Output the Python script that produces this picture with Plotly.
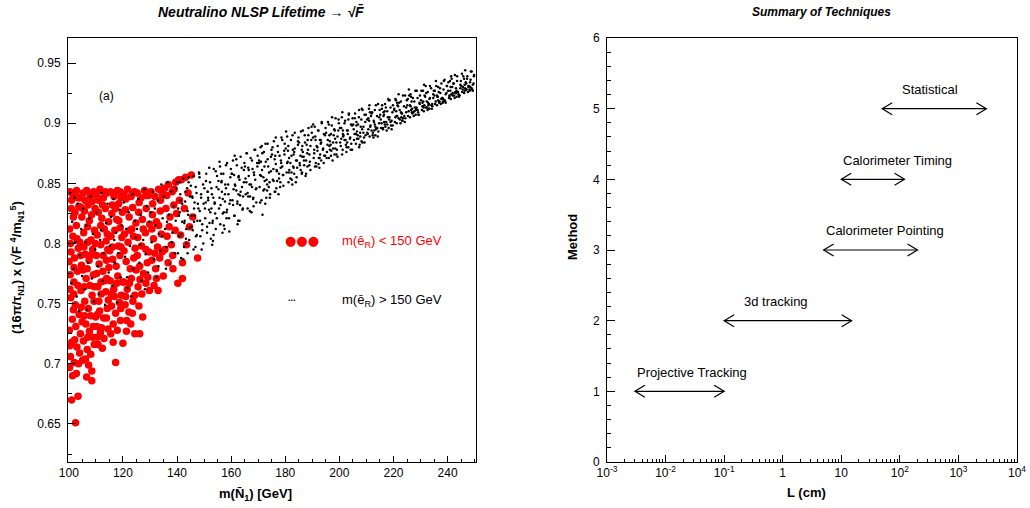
import math
import plotly.graph_objects as go

# ---------------- data: left panel ----------------
red_pts = [
 (100.4,.843),(101.6,.840),(102.9,.844),(104.2,.838),(100.9,.829),(102.3,.826),(103.7,.831),(104.8,.822),
 (100.3,.812),(101.5,.806),(102.8,.815),(104.1,.801),(100.8,.793),(102.1,.788),(103.5,.796),(104.7,.782),
 (100.5,.774),(101.9,.768),(103.2,.777),(104.5,.761),(100.7,.755),(102.4,.749),(103.8,.741),(101.3,.737),
 (100.2,.728),(102.6,.731),(104.3,.725),(101.1,.718),(103.0,.714),(100.6,.706),(102.0,.701),(104.0,.709),
 (100.3,.697),(101.4,.690),(101.0,.670),(102.5,.651),(103.4,.673),(101.8,.758),(104.6,.747),(100.1,.785),
 (101.0,.836),(103.3,.838),(101.7,.822),(104.5,.830),(100.6,.800),(103.0,.804),(101.9,.780),(104.4,.790),
 (100.4,.762),(103.4,.765),(101.7,.745),(104.9,.735),(102.2,.720),(100.4,.715),(103.6,.700),(102.8,.692),
 (105.3,.842),(106.6,.844),(107.9,.839),(109.2,.843),(105.8,.827),(107.1,.832),(108.4,.824),(109.7,.829),
 (105.5,.809),(106.9,.814),(108.2,.803),(109.5,.811),(106.1,.791),(107.5,.786),(108.8,.795),(105.2,.778),
 (106.4,.771),(107.8,.765),(109.1,.774),(105.9,.752),(107.2,.746),(108.6,.757),(109.9,.739),(106.3,.733),
 (107.6,.727),(108.9,.722),(105.4,.719),(106.8,.712),(108.1,.708),(109.4,.716),(105.1,.703),(107.3,.699),
 (108.5,.686),(106.6,.689),(108.5,.694),(109.3,.752),(105.7,.764),(107.0,.801),
 (106.0,.836),(108.6,.835),(107.6,.819),(105.6,.797),(108.0,.790),(109.8,.800),(106.8,.779),(109.5,.764),
 (105.8,.740),(108.1,.740),(107.0,.722),(109.0,.731),(106.2,.704),
 (110.3,.840),(111.5,.845),(112.8,.838),(114.1,.842),(110.9,.826),(112.2,.821),(113.5,.829),(114.7,.818),
 (110.5,.807),(111.8,.799),(113.1,.812),(114.4,.795),(111.2,.783),(112.6,.777),(113.9,.786),(110.7,.764),
 (112.0,.758),(113.3,.769),(114.6,.753),(111.4,.744),(112.9,.738),(114.2,.746),(110.4,.731),(111.7,.726),
 (113.0,.721),(114.5,.729),(110.8,.716),(112.4,.713),(113.7,.760),(110.2,.790),(111.1,.752),(114.0,.771),
 (112.5,.832),(113.8,.802),(110.6,.741),
 (111.0,.836),(113.5,.843),(111.8,.815),(114.2,.808),(110.3,.775),(112.7,.790),(114.8,.780),(111.9,.768),
 (113.9,.738),(112.1,.730),(110.5,.722),
 (115.4,.843),(116.7,.839),(118.0,.844),(119.3,.838),(115.9,.825),(117.2,.829),(118.5,.819),(119.8,.826),
 (115.6,.806),(117.0,.811),(118.3,.798),(119.6,.805),(116.2,.787),(117.5,.781),(118.9,.790),(115.3,.769),
 (116.6,.762),(118.1,.773),(119.4,.757),(115.8,.748),(117.3,.742),(118.7,.751),(116.4,.733),(117.9,.728),
 (119.1,.736),(115.5,.725),(117.3,.701),(119.9,.768),(116.9,.756),(118.4,.833),(115.1,.794),(119.0,.813),
 (116.0,.832),(118.9,.843),(117.7,.820),(116.1,.797),(119.3,.797),(117.7,.767),(115.8,.758),(119.2,.746),
 (116.4,.718),
 (120.4,.841),(121.7,.845),(123.0,.839),(124.3,.843),(120.9,.828),(122.3,.822),(123.6,.830),(124.8,.817),
 (120.6,.808),(121.9,.801),(123.3,.812),(124.5,.796),(121.2,.785),(122.7,.779),(124.0,.788),(120.3,.768),
 (121.6,.762),(123.1,.771),(124.4,.757),(120.8,.749),(122.2,.743),(123.7,.752),(121.4,.736),(122.9,.733),
 (120.0,.717),(124.4,.725),(121.0,.756),(123.9,.806),
 (121.1,.837),(123.7,.842),(122.6,.811),(120.4,.794),(124.9,.778),(122.4,.767),(123.5,.742),(121.3,.727),
 (125.3,.842),(126.7,.838),(128.0,.844),(129.4,.840),(125.8,.826),(127.2,.820),(128.6,.829),(129.9,.816),
 (125.5,.805),(126.9,.798),(128.3,.809),(129.6,.793),(126.2,.781),(127.6,.775),(129.0,.784),(125.6,.764),
 (127.0,.758),(128.5,.767),(126.2,.725),(127.3,.739),(125.9,.748),(129.2,.772),
 (126.0,.834),(128.8,.840),(127.5,.812),(125.3,.790),(128.5,.795),(126.3,.770),(129.8,.761),
 (130.4,.843),(131.8,.839),(133.2,.845),(134.6,.841),(130.9,.824),(132.4,.818),(133.8,.827),(131.3,.804),
 (132.8,.797),(134.2,.808),(130.7,.786),(132.1,.779),(133.6,.788),(131.5,.765),(133.0,.761),(134.9,.773),
 (131.0,.833),(133.9,.836),(130.7,.812),(133.2,.815),(131.8,.792),(134.5,.793),(132.4,.771),
 (135.4,.846),(136.8,.849),(138.2,.843),(139.5,.851),(135.9,.829),(137.4,.822),(138.8,.832),(136.3,.806),
 (137.9,.799),(139.3,.811),(136.7,.784),(138.5,.779),
 (136.2,.840),(138.9,.845),(137.1,.814),(139.8,.825),(135.5,.795),(138.4,.790),
 (140.3,.767),(142.0,.771),(142.0,.784),(140.6,.853),(141.6,.853),(143.2,.855),(145.3,.857),(140.9,.836),
 (142.7,.829),(144.1,.842),(141.3,.807),(143.5,.799),(147.6,.788),(145.8,.822),(144.6,.814),
]

black_pts = [
 (100.5,.842),(101.2,.818),(101.8,.779),(102.4,.801),(102.9,.756),(103.3,.833),(103.8,.744),(104.1,.790),(104.6,.812),(100.9,.767),(102.1,.838),(104.9,.773),
 (105.3,.829),(105.8,.762),(106.2,.801),(106.7,.745),(107.1,.784),(107.6,.821),(108.0,.839),(108.5,.771),(108.9,.808),(109.3,.752),(109.7,.795),(106.4,.815),
 (110.2,.826),(110.7,.781),(111.1,.758),(111.6,.803),(112.0,.842),(112.5,.769),(112.9,.792),(113.4,.749),(113.8,.817),(114.3,.833),(114.7,.776),(111.9,.811),
 (115.2,.798),(115.6,.822),(116.1,.765),(116.5,.837),(117.0,.784),(117.4,.809),(117.9,.751),(118.3,.792),(118.8,.828),(119.2,.772),(119.6,.815),(116.8,.803),
 (120.3,.834),(120.8,.789),(121.2,.812),(121.7,.763),(122.1,.826),(122.6,.798),(123.0,.756),(123.5,.841),(123.9,.779),(124.4,.819),(124.8,.805),(121.5,.772),
 (125.2,.812),(125.7,.837),(126.1,.784),(126.6,.824),(127.0,.769),(127.5,.803),(127.9,.845),(128.4,.791),(128.8,.831),(129.3,.776),(129.7,.818),(126.3,.799),(128.1,.762),
 (130.2,.826),(130.6,.801),(131.1,.843),(131.5,.787),(132.0,.815),(132.4,.772),(132.9,.836),(133.3,.808),(133.8,.794),(134.2,.849),(134.7,.821),(131.8,.829),(133.1,.781),(134.5,.806),
 (135.2,.839),(135.6,.812),(136.1,.797),(136.5,.851),(137.0,.824),(137.4,.783),(137.9,.843),(138.3,.809),(138.8,.831),(139.2,.792),(139.7,.846),(136.3,.818),(138.1,.801),(139.5,.819),(135.9,.779),
 (140.1,.851),(140.4,.829),(140.8,.806),(141.2,.841),(141.5,.788),(141.9,.818),(142.3,.854),(142.6,.797),(143.0,.835),(143.4,.812),(143.7,.846),(144.1,.824),(144.5,.803),(144.8,.839),(141.0,.826),(142.8,.819),(143.9,.792),(144.3,.851),
 (145.1,.848),(145.4,.823),(145.8,.811),(146.1,.856),(146.5,.834),(146.8,.797),(147.2,.842),(147.5,.819),(147.9,.829),(148.2,.858),(148.6,.806),(148.9,.838),(149.3,.816),(149.6,.849),(145.6,.839),(146.3,.818),(147.0,.806),(148.4,.827),(149.1,.795),(149.8,.833),
 (150.1,.846),(150.4,.821),(150.8,.858),(151.1,.809),(151.5,.836),(151.8,.828),(152.2,.851),(152.5,.804),(152.9,.841),(153.2,.819),(153.6,.862),(153.9,.833),(154.3,.812),(154.6,.847),(150.6,.834),(151.3,.843),(152.0,.817),(152.7,.829),(153.4,.838),(154.1,.825),(154.8,.856),(153.0,.799),
 (155.3,.852),(155.5,.829),(155.9,.864),(156.0,.816),(156.6,.843),(156.9,.837),(157.1,.858),(157.6,.812),(157.8,.849),(158.3,.826),(158.5,.867),(159.0,.841),(159.2,.821),(159.7,.855),(155.7,.838),(156.4,.851),(157.3,.826),(157.7,.835),(158.1,.846),(159.4,.833),(159.9,.862),(156.8,.809),
 (160.2,.858),(160.5,.836),(160.7,.869),(161.3,.823),(161.4,.849),(161.9,.844),(162.1,.865),(162.6,.819),(162.8,.856),(163.3,.832),(163.5,.872),(164.0,.847),(164.2,.828),(164.7,.861),(160.9,.845),(161.1,.857),(162.3,.833),(162.7,.841),(163.1,.853),(164.4,.839),(164.9,.867),(162.4,.816),
 (165.1,.864),(165.4,.841),(165.8,.875),(166.1,.829),(166.5,.856),(166.8,.849),(167.2,.871),(167.5,.826),(167.9,.862),(168.2,.838),(168.6,.878),(168.9,.853),(169.3,.834),(169.6,.867),(165.6,.851),(166.3,.863),(167.0,.839),(167.7,.847),(168.4,.859),(169.1,.845),(169.8,.873),(171.6,.824),
 (170.3,.869),(170.5,.847),(170.9,.880),(171.2,.836),(171.4,.861),(171.9,.855),(172.1,.876),(172.6,.833),(172.8,.868),(173.3,.844),(173.5,.883),(174.0,.859),(174.4,.841),(174.7,.872),(170.7,.857),(171.0,.868),(172.3,.845),(172.4,.852),(173.7,.864),(174.2,.851),(174.9,.878),(173.0,.838),
 (175.1,.874),(175.4,.853),(175.8,.885),(176.1,.843),(176.5,.866),(176.8,.861),(177.2,.881),(177.5,.841),(177.9,.873),(178.2,.851),(178.6,.888),(178.9,.864),(179.3,.848),(179.6,.877),(175.6,.862),(176.3,.873),(177.0,.852),(177.7,.858),(178.4,.869),(179.1,.857),(179.8,.883),(176.7,.846),
 (180.2,.879),(180.5,.859),(180.7,.889),(181.2,.851),(181.4,.871),(181.9,.867),(182.1,.886),(182.6,.849),(182.8,.878),(183.3,.858),(183.5,.892),(184.0,.869),(184.2,.855),(184.7,.882),(180.9,.868),(181.0,.877),(182.3,.859),(182.9,.864),(183.1,.874),(184.4,.863),(184.9,.888),(182.4,.853),
 (185.1,.884),(185.4,.865),(185.8,.893),(186.1,.858),(186.5,.876),(186.8,.872),(187.2,.890),(187.5,.856),(187.9,.882),(188.2,.864),(188.6,.896),(188.9,.874),(189.3,.861),(189.6,.886),(185.6,.873),(186.3,.881),(187.0,.865),(187.7,.869),(188.4,.878),(189.1,.868),(189.8,.892),(186.2,.859),
 (190.3,.888),(190.5,.871),(190.9,.897),(191.0,.864),(191.6,.881),(191.9,.877),(192.1,.894),(192.6,.863),(192.8,.886),(193.3,.869),(193.5,.900),(194.0,.879),(194.2,.867),(194.7,.890),(190.7,.878),(191.2,.886),(192.4,.871),(192.9,.874),(193.1,.883),(194.4,.873),(194.9,.896),(192.3,.866),
 (195.1,.892),(195.4,.876),(195.8,.901),(196.1,.871),(196.5,.885),(196.8,.882),(197.2,.898),(197.5,.869),(197.9,.890),(198.2,.874),(198.6,.904),(198.9,.884),(199.3,.872),(199.6,.894),(195.6,.882),(196.3,.890),(197.0,.877),(197.7,.879),(198.4,.887),(199.1,.878),(199.8,.900),(196.9,.873),
 (200.2,.896),(200.5,.881),(200.9,.905),(201.2,.878),(201.4,.889),(201.9,.886),(202.1,.902),(202.6,.876),(202.8,.894),(203.3,.880),(203.5,.908),(204.0,.888),(204.2,.878),(204.7,.898),(200.7,.887),(201.3,.894),(202.4,.882),(202.9,.884),(203.1,.891),(204.4,.883),(204.9,.904),(201.0,.874),
 (205.1,.899),(205.4,.886),(205.8,.908),(206.1,.883),(206.5,.893),(206.8,.890),(207.2,.905),(207.5,.882),(207.9,.897),(208.2,.885),(208.6,.911),(208.9,.892),(209.3,.884),(209.6,.901),(205.6,.891),(206.3,.898),(207.0,.887),(207.7,.889),(208.4,.895),(209.1,.888),(209.8,.907),(207.3,.880),
 (210.3,.903),(210.5,.891),(210.9,.912),(211.2,.889),(211.4,.897),(211.9,.894),(212.1,.909),(212.6,.888),(212.8,.901),(213.3,.890),(213.5,.915),(214.0,.896),(214.2,.889),(214.7,.905),(210.7,.895),(211.0,.902),(212.4,.892),(212.9,.894),(213.1,.899),(214.4,.893),(214.9,.911),(211.7,.906),
 (215.1,.907),(215.4,.896),(215.8,.915),(216.1,.895),(216.5,.901),(216.8,.899),(217.2,.913),(217.5,.894),(217.9,.905),(218.2,.896),(218.6,.919),(218.9,.901),(219.3,.895),(219.6,.909),(215.6,.900),(216.3,.906),(217.0,.897),(217.7,.899),(218.4,.903),(219.1,.898),(219.8,.915),(216.7,.910),
 (220.2,.911),(220.5,.901),(220.9,.919),(221.2,.900),(221.4,.906),(221.9,.904),(222.1,.917),(222.6,.900),(222.8,.909),(223.3,.902),(223.5,.923),(224.0,.906),(224.2,.901),(224.7,.913),(220.7,.905),(221.0,.910),(222.4,.903),(222.9,.905),(223.1,.908),(224.4,.904),(224.9,.919),(221.7,.914),
 (225.1,.915),(225.4,.906),(225.8,.923),(226.1,.905),(226.5,.911),(226.8,.909),(227.2,.921),(227.5,.906),(227.9,.913),(228.2,.907),(228.6,.927),(228.9,.911),(229.3,.907),(229.6,.917),(225.6,.910),(226.3,.914),(227.0,.908),(227.7,.910),(228.4,.912),(229.1,.909),(229.8,.923),(226.7,.918),
 (230.2,.919),(230.5,.911),(230.9,.927),(231.2,.910),(231.4,.915),(231.9,.913),(232.1,.925),(232.6,.911),(232.8,.917),(233.3,.912),(233.5,.931),(234.0,.915),(234.2,.912),(234.7,.921),(230.7,.914),(231.0,.918),(232.4,.913),(232.9,.915),(233.1,.916),(234.4,.914),(234.9,.927),(231.7,.922),
 (235.1,.923),(235.4,.916),(235.8,.931),(236.1,.915),(236.5,.919),(236.8,.918),(237.2,.929),(237.5,.916),(237.9,.921),(238.2,.917),(238.6,.935),(238.9,.919),(239.3,.917),(239.6,.925),(235.6,.918),(236.3,.922),(237.0,.918),(237.7,.920),(238.4,.920),(239.1,.918),(239.8,.931),(236.7,.926),
 (240.2,.927),(240.5,.921),(240.9,.935),(241.2,.920),(241.4,.924),(241.9,.923),(242.1,.933),(242.6,.921),(242.8,.926),(243.3,.922),(243.5,.939),(244.0,.924),(244.2,.922),(244.7,.929),(240.7,.923),(241.0,.927),(242.4,.923),(242.9,.925),(243.1,.925),(244.4,.923),(244.9,.935),(241.7,.930),
 (245.1,.931),(245.4,.926),(245.8,.939),(246.1,.925),(246.5,.929),(246.8,.928),(247.2,.937),(247.5,.926),(247.9,.931),(248.2,.927),(248.6,.943),(248.9,.929),(249.3,.927),(249.6,.933),(245.6,.928),(246.3,.932),(247.0,.928),(247.7,.930),(248.4,.930),(249.1,.928),(249.8,.940),(246.7,.934),
 (140.3,.792),(140.7,.823),(141.1,.851),(141.5,.808),(141.9,.833),(142.3,.787),(142.7,.817),(143.1,.843),(143.5,.800),(143.9,.827),(144.3,.855),(144.7,.813),(141.3,.836),(143.3,.804),
 (145.3,.814),(145.7,.838),(146.1,.795),(146.5,.823),(146.9,.847),(147.3,.807),(147.7,.833),(148.1,.859),(148.5,.819),(148.9,.841),(149.3,.811),(149.7,.800),(146.3,.829),(148.3,.855),
 (150.3,.829),(150.7,.852),(151.1,.814),(151.5,.838),(151.9,.863),(152.3,.826),(152.7,.846),(153.1,.817),(153.5,.807),(153.9,.834),(154.3,.860),(154.7,.821),(151.3,.843),(153.3,.802),
 (155.3,.845),(155.7,.868),(156.1,.832),(156.5,.852),(156.9,.825),(157.3,.815),(157.7,.841),(158.1,.865),(158.5,.828),(158.9,.849),(159.3,.810),(159.7,.836),(156.3,.858),(158.3,.821),
 (160.3,.858),(160.7,.832),(161.1,.823),(161.5,.848),(161.9,.870),(162.3,.835),(162.7,.855),(163.1,.819),(163.5,.843),(163.9,.863),(164.3,.829),(164.7,.851),(161.3,.873),(163.3,.840),
 (165.3,.854),(165.7,.875),(166.1,.842),(166.5,.861),(166.9,.827),(167.3,.849),(167.7,.869),(168.1,.837),(168.5,.857),(168.9,.878),(169.3,.846),(169.7,.864),(166.3,.839),(168.3,.831),
 (170.3,.867),(170.7,.834),(171.1,.856),(171.5,.875),(171.9,.844),(172.3,.864),(172.7,.883),(173.1,.853),(173.5,.870),(173.9,.847),(174.3,.838),(174.7,.860),(171.3,.881),(173.3,.849),
 (175.3,.880),(175.7,.852),(176.1,.870),(176.5,.888),(176.9,.860),(177.3,.876),(177.7,.854),(178.1,.847),(178.5,.867),(178.9,.886),(179.3,.857),(179.7,.874),(176.3,.843),(178.3,.863),
 (180.3,.893),(180.7,.867),(181.1,.881),(181.5,.861),(181.9,.854),(182.3,.873),(182.7,.890),(183.1,.863),(183.5,.879),(183.9,.851),(184.3,.869),(184.7,.885),(181.3,.859),(183.3,.876),
 (185.3,.867),(185.7,.861),(186.1,.878),(186.5,.894),(186.9,.869),(187.3,.884),(187.7,.858),(188.1,.875),(188.5,.890),(188.9,.865),(189.3,.881),(189.7,.897),(186.3,.872),(188.3,.886),
 (190.3,.899),(190.7,.875),(191.1,.889),(191.5,.864),(191.9,.880),(192.3,.894),(192.7,.871),(193.1,.886),(193.5,.901),(193.9,.878),(194.3,.891),(194.7,.873),(191.3,.867),(193.3,.884),
 (195.3,.871),(195.7,.886),(196.1,.899),(196.5,.878),(196.9,.891),(197.3,.905),(197.7,.884),(198.1,.895),(198.5,.879),(198.9,.874),(199.3,.889),(199.7,.903),(196.3,.881),(198.3,.894),
 (200.3,.884),(200.7,.896),(201.1,.909),(201.5,.890),(201.9,.900),(202.3,.886),(202.7,.880),(203.1,.894),(203.5,.907),(203.9,.887),(204.3,.899),(204.7,.878),(201.3,.891),(203.3,.903),
 (205.3,.895),(205.7,.904),(206.1,.891),(206.5,.887),(206.9,.899),(207.3,.911),(207.7,.892),(208.1,.903),(208.5,.884),(208.9,.897),(209.3,.907),(209.7,.890),(206.3,.901),(208.3,.912),
 (210.3,.892),(210.7,.904),(211.1,.915),(211.5,.898),(211.9,.908),(212.3,.890),(212.7,.902),(213.1,.911),(213.5,.895),(213.9,.906),(214.3,.916),(214.7,.900),(211.3,.909),(213.3,.897),
 (215.3,.903),(215.7,.912),(216.1,.896),(216.5,.907),(216.9,.916),(217.3,.901),(217.7,.910),(218.1,.920),(218.5,.905),(218.9,.913),(219.3,.902),(219.7,.898),(216.3,.909),(218.3,.919),
 (220.3,.912),(220.7,.920),(221.1,.906),(221.5,.915),(221.9,.924),(222.3,.911),(222.7,.918),(223.1,.908),(223.5,.904),(223.9,.914),(224.3,.923),(224.7,.909),(221.3,.917),(223.3,.902),
 (225.3,.920),(225.7,.928),(226.1,.915),(226.5,.922),(226.9,.912),(227.3,.909),(227.7,.918),(228.1,.927),(228.5,.913),(228.9,.921),(229.3,.907),(229.7,.916),(226.3,.924),(228.3,.911),
 (230.3,.927),(230.7,.917),(231.1,.913),(231.5,.923),(231.9,.931),(232.3,.918),(232.7,.926),(233.1,.912),(233.5,.921),(233.9,.929),(234.3,.916),(234.7,.924),(231.3,.932),(233.3,.920),
 (235.3,.927),(235.7,.935),(236.1,.923),(236.5,.930),(236.9,.917),(237.3,.925),(237.7,.933),(238.1,.921),(238.5,.928),(238.9,.936),(239.3,.924),(239.7,.931),(236.3,.922),(238.3,.918),
 (240.3,.934),(240.7,.922),(241.1,.930),(241.5,.937),(241.9,.925),(242.3,.933),(242.7,.940),(243.1,.929),(243.5,.935),(243.9,.926),(244.3,.923),(244.7,.932),(241.3,.939),(243.3,.927),
 (245.3,.941),(245.7,.930),(246.1,.937),(246.5,.944),(246.9,.933),(247.3,.939),(247.7,.931),(248.1,.928),(248.5,.936),(248.9,.943),(249.3,.932),(249.7,.939),(246.3,.927),(248.3,.934),
]

red_x = [p[0] for p in red_pts]
red_y = [p[1] for p in red_pts]
black_x = [p[0] for p in black_pts]
black_y = [p[1] for p in black_pts]

# ---------------- data: right panel ----------------
methods = ["Projective Tracking", "3d tracking", "Calorimeter Pointing", "Calorimeter Timing", "Statistical"]
method_level = [1, 2, 3, 4, 5]
range_lo = [0.003, 0.1, 5, 10, 50]
range_hi = [0.1, 15, 200, 120, 3000]
label_x = [0.003, 0.2, 5, 10, 100]

decade_vals = [1e-3, 1e-2, 1e-1, 1, 10, 1e2, 1e3, 1e4]
decade_text = ["10<sup>-3</sup>", "10<sup>-2</sup>", "10<sup>-1</sup>", "1", "10",
               "10<sup>2</sup>", "10<sup>3</sup>", "10<sup>4</sup>"]

FONT = "Liberation Sans, Arial, Helvetica, sans-serif"

fig = go.Figure()

fig.add_trace(go.Scatter(x=red_x, y=red_y, mode="markers", xaxis="x", yaxis="y",
                         marker=dict(color="#ff0000", size=7.5, line=dict(width=0)),
                         showlegend=False, hoverinfo="skip"))
fig.add_trace(go.Scatter(x=black_x, y=black_y, mode="markers", xaxis="x", yaxis="y",
                         marker=dict(color="black", size=2.5, line=dict(width=0)),
                         showlegend=False, hoverinfo="skip"))

# arrows (open V heads) built from the range data
head_dec = 0.17   # head length in decades
head_dy = 0.085   # half-height of head in method units
ax, ay = [], []
for lo, hi, lv in zip(range_lo, range_hi, method_level):
    ax += [lo, hi, None]
    ay += [lv, lv, None]
    lo_h = lo * 10 ** head_dec
    hi_h = hi / 10 ** head_dec
    ax += [lo_h, lo, lo_h, None]
    ay += [lv + head_dy, lv, lv - head_dy, None]
    ax += [hi_h, hi, hi_h, None]
    ay += [lv + head_dy, lv, lv - head_dy, None]
fig.add_trace(go.Scatter(x=ax, y=ay, mode="lines", xaxis="x2", yaxis="y2",
                         line=dict(color="black", width=1.2),
                         showlegend=False, hoverinfo="skip"))

annotations = []
for name, lx, lv in zip(methods, label_x, method_level):
    annotations.append(dict(x=math.log10(lx), y=lv + 0.27, xref="x2", yref="y2",
                            text=name, showarrow=False, xanchor="left", yanchor="middle",
                            font=dict(family=FONT, size=13, color="black")))


def pa(x, y, text, size=13, color="black", angle=0, xanchor="center", family=FONT):
    return dict(x=x / 1030, y=1 - y / 508, xref="paper", yref="paper", showarrow=False,
                text=text, textangle=angle, xanchor=xanchor, yanchor="middle",
                font=dict(family=family, size=size, color=color))


annotations += [
    dict(x=114, y=0.9226, xref="x", yref="y", text="(a)", showarrow=False,
         xanchor="center", yanchor="middle",
         font=dict(family=FONT, size=12, color="black")),
    pa(261, 12, "<b><i>Neutralino NLSP Lifetime \u2192 \u221aF\u0304</i></b>", size=14),
    pa(821, 12, "<b><i>Summary of Techniques</i></b>", size=12),
    pa(255, 494, "<b>m(N\u0304<sub>1</sub>) [GeV]</b>", size=13),
    pa(17, 268, "<b>(16\u03c0/\u03c4<sub>N1</sub>) x (\u221aF <sup>4</sup>/m<sub>N1</sub><sup>5</sup>)</b>",
       size=13, angle=-90),
    pa(806, 492, "<b>L (cm)</b>", size=13),
    pa(572, 237, "<b>Method</b>", size=13, angle=-90),
    pa(302, 240, "\u25cf\u25cf\u25cf", size=13, color="#ff0000", family="DejaVu Sans"),
    pa(340, 241, "m(\u0113<sub>R</sub>) &lt; 150 GeV", size=13, color="#ff0000", xanchor="left"),
    pa(292, 298, "<b>...</b>", size=9),
    pa(340, 300, "m(\u0113<sub>R</sub>) &gt; 150 GeV", size=13, xanchor="left"),
]

minor_log = [m * 10 ** k for k in range(-3, 4) for m in range(2, 10)]

axis_common = dict(showline=True, linecolor="black", linewidth=1, mirror=True,
                   showgrid=False, zeroline=False, ticks="inside", tickcolor="black",
                   automargin=False,
                   tickfont=dict(family=FONT, size=12, color="black"))

fig.update_layout(
    width=1030, height=508, margin=dict(l=0, r=0, t=0, b=0, autoexpand=False),
    paper_bgcolor="white", plot_bgcolor="white", showlegend=False,
    xaxis=dict(domain=[68/1030, 476/1030], range=[99.7, 250.5], anchor="y",
               tick0=100, dtick=20, ticklen=6,
               minor=dict(ticks="inside", dtick=5, tick0=100, ticklen=3, tickcolor="black"),
               **axis_common),
    yaxis=dict(domain=[46/508, 470/508], range=[0.6184, 0.9708], anchor="x",
               tick0=0, dtick=0.05, ticklen=8, ticklabelstandoff=4,
               minor=dict(ticks="inside", dtick=0.025, tick0=0, ticklen=4, tickcolor="black"),
               **axis_common),
    xaxis2=dict(domain=[607/1030, 1017/1030], type="log", range=[-3, 4], anchor="y2",
                tickmode="array", tickvals=decade_vals, ticktext=decade_text, ticklen=7,
                minor=dict(ticks="inside", tickmode="array", tickvals=minor_log, ticklen=3.5,
                           tickcolor="black"),
                **axis_common),
    yaxis2=dict(domain=[46/508, 470/508], range=[0, 6], anchor="x2",
                tick0=0, dtick=1, ticklen=8, ticklabelstandoff=4,
                minor=dict(ticks="inside", dtick=0.2, tick0=0, ticklen=4, tickcolor="black"),
                **axis_common),
    annotations=annotations,
)

fig.write_html("out.html")
